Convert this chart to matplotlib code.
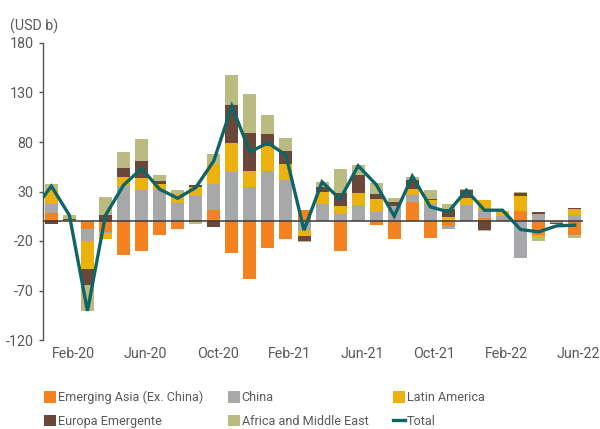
import numpy as np
import matplotlib
matplotlib.use("Agg")
import matplotlib.pyplot as plt
import matplotlib.transforms as mtransforms
from matplotlib.patches import Patch
from matplotlib.lines import Line2D

# ---- data (USD b), Jan-20 .. Jun-22 ----
months = ["Jan-20", "Feb-20", "Mar-20", "Apr-20", "May-20", "Jun-20", "Jul-20", "Aug-20",
          "Sep-20", "Oct-20", "Nov-20", "Dec-20", "Jan-21", "Feb-21", "Mar-21", "Apr-21",
          "May-21", "Jun-21", "Jul-21", "Aug-21", "Sep-21", "Oct-21", "Nov-21", "Dec-21",
          "Jan-22", "Feb-22", "Mar-22", "Apr-22", "May-22", "Jun-22"]

em_asia = [8.1, 0, -8.1, -10.8, -34.0, -30.3, -14.1, -8.1, 1.7, 11.1, -32.3, -58.2, -27.3, -18.2,
           11.1, 0, -30.3, 0, -4.0, -17.5, 19.5, -17.2, -4.7, 0, 3.4, 1.3, 10.1, -14.1, -1.2, -14.1]
china = [9.4, 0, -12.1, -1.3, 35.7, 31.6, 31.3, 18.2, 23.5, 26.3, 50.2, 34.3, 50.5, 41.8,
         -9.1, 17.5, 7.4, 16.2, 9.4, 15.2, 6.7, 17.5, -3.4, 16.2, 8.4, 3.7, -37.0, 7.1, -0.5, 6.1]
latam = [13.8, 1.0, -28.3, -6.1, 8.8, 11.8, 6.1, 9.1, 9.1, 20.2, 28.6, 16.2, 25.6, 15.8,
         -6.1, 11.8, 7.7, 12.1, 12.8, -0.7, 6.4, 4.4, 4.0, 7.1, 9.4, 5.7, 15.2, -1.7, 0, 6.1]
europe = [-2.7, 1.2, -16.2, 6.1, 9.1, 17.2, 3.0, 0, 2.0, -6.1, 38.4, 38.4, 11.8, 13.1,
          -4.7, 5.1, 13.1, 18.5, 5.1, 4.4, 8.8, 1.0, 8.8, 8.1, -9.1, 0, 3.0, 2.0, -0.8, 1.0]
africa = [6.4, 3.8, -25.9, 18.2, 16.2, 22.2, 6.1, 4.0, -2.7, 10.1, 30.3, 39.4, 19.2, 13.1,
          -1.3, 5.1, 24.2, 9.8, 11.1, 4.0, 3.0, 8.4, 4.4, 1.0, -1.0, 0, 1.0, -4.0, 0, -3.0]

# Total line starts one month earlier (Dec-19)
total_start = -1
total = [11, 35.4, 6, -90.6, 6, 36.4, 53.2, 32.3, 23.2, 34.0, 60.9, 116.2, 70.0, 79.1, 66.7,
         -9.1, 39.7, 22.2, 55.9, 37.0, 5.1, 45.5, 14.5, 9.4, 31.3, 11.1, 11.1, -8.4, -10.8,
         -4.7, -4.0]

series_names = ["Emerging Asia (Ex. China)", "China", "Latin America",
                "Europa Emergente", "Africa and Middle East"]
series = [em_asia, china, latam, europe, africa]
colors = ["#F58220", "#A7A8AA", "#EAB10F", "#6B4739", "#B9BB80"]
total_color = "#0F6566"

xtick_labels = ["Feb-20", "Jun-20", "Oct-20", "Feb-21", "Jun-21", "Oct-21", "Feb-22", "Jun-22"]
yticks = [180, 130, 80, 30, -20, -70, -120]

# ---- plotting ----
font = ["Roboto", "DejaVu Sans"]
plt.rcParams["font.family"] = font
txt_color = "#595959"

fig = plt.figure(figsize=(6.0, 4.29), dpi=100)
ax = fig.add_axes([42.7 / 600, 1 - 340 / 429, (583 - 42.7) / 600, (340 - 43) / 429])

x = np.arange(len(months))
pos_bottom = np.zeros(len(months))
neg_bottom = np.zeros(len(months))
handles = []
for name, vals, c in zip(series_names, series, colors):
    v = np.array(vals, dtype=float)
    bottom = np.where(v >= 0, pos_bottom, neg_bottom)
    ax.bar(x, v, bottom=bottom, width=0.72, color=c, linewidth=0, zorder=2)
    pos_bottom += np.where(v >= 0, v, 0)
    neg_bottom += np.where(v < 0, v, 0)
    handles.append(Patch(facecolor=c, edgecolor="none", label=name))

ax.axhline(0, color="#3a3a3a", lw=1.1, zorder=3)
tx = np.arange(len(total)) + total_start
ax.plot(tx, total, color=total_color, lw=2.4, zorder=4, solid_joinstyle="miter")
handles.append(Line2D([0], [0], color=total_color, lw=2.4, label="Total"))

ax.set_xlim(-0.48, 29.46)
ax.set_ylim(-120, 180)
ax.set_yticks(yticks)
ax.set_yticklabels([str(t) for t in yticks])
ax.set_xticks([months.index(m) for m in xtick_labels])
ax.set_xticklabels(xtick_labels)

for s in ["top", "right", "bottom"]:
    ax.spines[s].set_visible(False)
ax.spines["left"].set_color("#555555")
ax.spines["left"].set_linewidth(1.0)
ax.tick_params(axis="y", direction="out", length=3, width=1, color="#555555",
               labelsize=10.3, labelcolor=txt_color, pad=3.5)
ax.tick_params(axis="x", length=0, labelsize=10.3, labelcolor=txt_color, pad=5)
offset = mtransforms.ScaledTranslation(4 / 100, 0, fig.dpi_scale_trans)
for lab in ax.get_xticklabels():
    lab.set_transform(lab.get_transform() + offset)

fig.text(10 / 600, 1 - 26 / 429, "(USD b)", fontsize=10.3, color=txt_color, va="center", ha="left")

# legend: row-major order in reference -> column-major for matplotlib
order = [0, 3, 1, 4, 2, 5]
leg = fig.legend([handles[i] for i in order], [handles[i].get_label() for i in order],
                 loc="upper left", bbox_to_anchor=(44 / 600, 1 - 391 / 429), ncol=3,
                 frameon=False, fontsize=9.1, handlelength=0.95, handleheight=1.0,
                 handletextpad=0.15, columnspacing=1.95, labelspacing=0.85,
                 borderpad=0, borderaxespad=0)
for t in leg.get_texts():
    t.set_color(txt_color)

fig.savefig("out.png", dpi=100)
